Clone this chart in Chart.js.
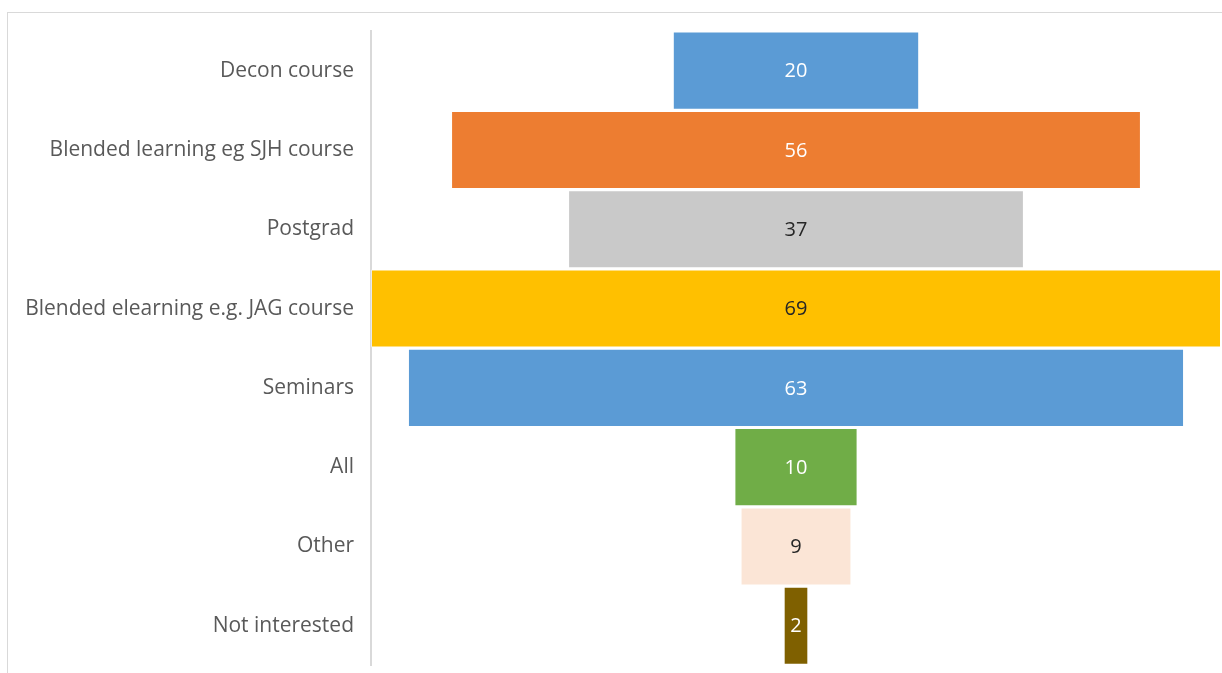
<!DOCTYPE html>
<html>
<head>
<meta charset="utf-8">
<script src="https://cdn.jsdelivr.net/npm/chart.js@4.4.0/dist/chart.umd.min.js"></script>
<style>
  html,body{margin:0;padding:0;background:#fff;overflow:hidden;width:1222px;height:673px}
  #frame{position:absolute;left:7px;top:12px;width:1240px;height:700px;border:1px solid #d9d9d9;box-sizing:border-box}
  #wrap{position:absolute;left:0;top:0;width:1222px;height:695px}
</style>
</head>
<body>
<div id="frame"></div>
<div id="wrap"><canvas id="funnel"></canvas></div>
<script>
/* Funnel: training preferences */
var categories = ['Decon course','Blended learning eg SJH course','Postgrad','Blended elearning e.g. JAG course','Seminars','All','Other','Not interested'];
var values     = [20, 56, 37, 69, 63, 10, 9, 2];
var barColors  = ['#5B9BD5','#ED7D31','#C9C9C9','#FFC000','#5B9BD5','#70AD47','#FBE5D6','#7F6000'];
var labelColors= ['#ffffff','#ffffff','#262626','#262626','#ffffff','#ffffff','#262626','#ffffff'];

var maxVal = Math.max.apply(null, values);
var FONT = '"Open Sans", "Liberation Sans", sans-serif';

// floating bars centred on zero
var ranges = values.map(function(v){ return [-v/2, v/2]; });

var valueLabels = {
  id:'valueLabels',
  afterDatasetsDraw:function(chart){
    var ctx = chart.ctx;
    var meta = chart.getDatasetMeta(0);
    ctx.save();
    ctx.font = '20px ' + FONT;
    ctx.textAlign = 'center';
    ctx.textBaseline = 'middle';
    meta.data.forEach(function(bar, i){
      ctx.fillStyle = labelColors[i];
      ctx.fillText(String(values[i]), chart.scales.x.getPixelForValue(0), bar.y + 1);
    });
    ctx.restore();
  }
};

new Chart(document.getElementById('funnel'), {
  type:'bar',
  data:{
    labels:categories,
    datasets:[{
      data:ranges,
      backgroundColor:barColors,
      borderColor:'rgba(255,255,255,0.45)',
      borderWidth:1,
      borderSkipped:false,
      categoryPercentage:1,
      barPercentage:0.985
    }]
  },
  options:{
    indexAxis:'y',
    responsive:true,
    maintainAspectRatio:false,
    animation:false,
    layout:{padding:{top:31,bottom:9,right:1,left:0}},
    plugins:{legend:{display:false},tooltip:{enabled:false}},
    scales:{
      x:{display:false,min:-maxVal/2,max:maxVal/2},
      y:{
        grid:{display:false,drawTicks:false},
        border:{display:true,color:'#d9d9d9',width:2},
        ticks:{color:'#595959',font:{family:FONT,size:21},padding:17},
        afterFit:function(scale){ scale.width = 371; }
      }
    }
  },
  plugins:[valueLabels]
});
</script>
</body>
</html>
